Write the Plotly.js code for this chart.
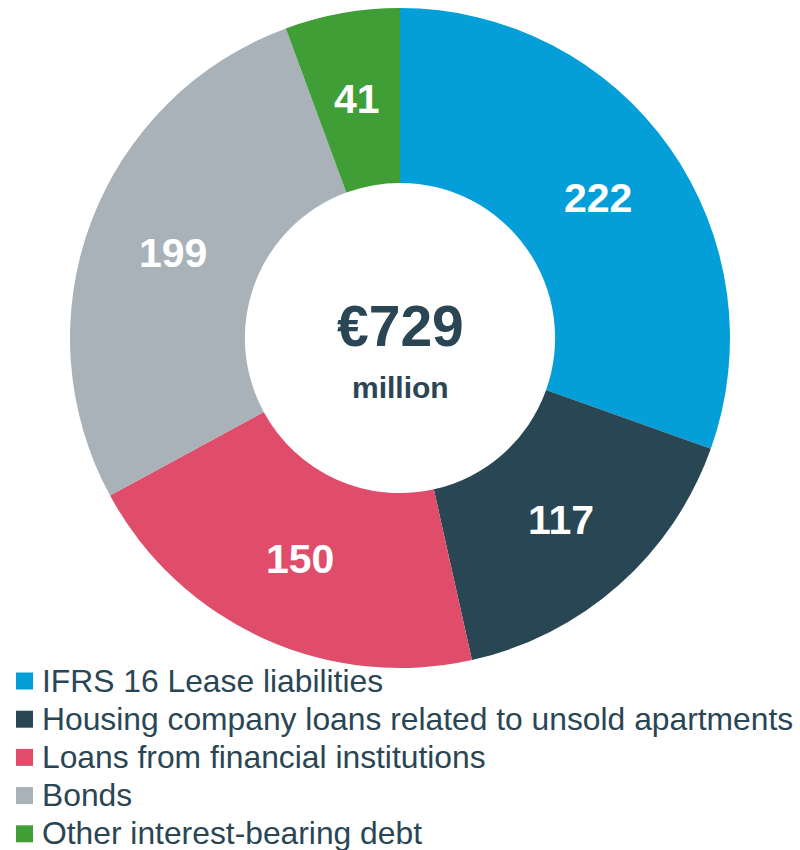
<!DOCTYPE html>
<html>
<head>
<meta charset="utf-8">
<script src="https://cdn.plot.ly/plotly-3.0.1.min.js"></script>
<style>html,body{margin:0;padding:0;background:#fff;}#chart{width:800px;height:850px;}</style>
</head>
<body>
<div id="chart"></div>
<script>
const categories = [
  "IFRS 16 Lease liabilities",
  "Housing company loans related to unsold apartments",
  "Loans from financial institutions",
  "Bonds",
  "Other interest-bearing debt"
];
const values = [222, 117, 150, 199, 41];
const colors = ["#049fd9", "#284653", "#df4d6b", "#a8b2b8", "#3f9e35"];
const totalText = "€729";
const unitText = "million";

const textColor = "#2a4654";
const W = 800, H = 850;
const HOLE = 0.47;
const domainX = [0.0875, 0.9125];
const domainY = [0.2141, 0.9906];

const trace = {
  type: "pie",
  labels: categories,
  values: values,
  sort: false,
  direction: "clockwise",
  rotation: 0,
  hole: HOLE,
  marker: {colors: colors, line: {width: 0}},
  textinfo: "none",
  domain: {x: domainX, y: domainY},
  hoverinfo: "label+value",
  showlegend: false
};

const shapes = [];
const annotations = [];

// Slice value labels centred in the ring (as in the reference)
const cxPx = (domainX[0] + domainX[1]) / 2 * W;
const cyPx = (1 - (domainY[0] + domainY[1]) / 2) * H;
const Rpx = Math.min((domainX[1] - domainX[0]) * W, (domainY[1] - domainY[0]) * H) / 2;
const rMid = Rpx * (1 + HOLE) / 2;
const total = values.reduce((a, b) => a + b, 0);
let cum = 0;
values.forEach((v, i) => {
  const ang = (cum + v / 2) / total * 2 * Math.PI;
  cum += v;
  const px = cxPx + rMid * Math.sin(ang);
  const py = cyPx - rMid * Math.cos(ang);
  annotations.push({
    text: "<b>" + v + "</b>", xref: "paper", yref: "paper",
    x: px / W, y: 1 - py / H, xanchor: "center", yanchor: "middle",
    showarrow: false,
    font: {family: "Liberation Sans, Arial, sans-serif", size: 41, color: "#ffffff"}
  });
});

// Legend drawn as layout items (square swatch + label) built from categories/colors
const legendTop = 681;   // px, centre of first entry
const legendStep = 38.2; // px between entries
categories.forEach((name, i) => {
  const cy = legendTop + i * legendStep;
  shapes.push({
    type: "rect", xref: "paper", yref: "paper",
    x0: 16 / W, x1: 33 / W,
    y0: 1 - (cy + 8.5) / H, y1: 1 - (cy - 8.5) / H,
    fillcolor: colors[i], line: {width: 0}
  });
  annotations.push({
    text: name, xref: "paper", yref: "paper",
    x: 40 / W, xanchor: "left",
    y: 1 - (cy - 0.5) / H, yanchor: "middle",
    showarrow: false,
    font: {family: "Liberation Sans, Arial, sans-serif", size: 31.8, color: textColor}
  });
});

annotations.push(
  {text: "<b>" + totalText + "</b>", x: 0.5, y: 1 - 326/H, xref: "paper", yref: "paper",
   showarrow: false, font: {family: "Liberation Sans, Arial, sans-serif", size: 57, color: textColor}},
  {text: "<b>" + unitText + "</b>", x: 0.5, y: 1 - 387/H, xref: "paper", yref: "paper",
   showarrow: false, font: {family: "Liberation Sans, Arial, sans-serif", size: 30, color: textColor}}
);

const layout = {
  width: W,
  height: H,
  margin: {l: 0, r: 0, t: 0, b: 0, autoexpand: false},
  paper_bgcolor: "#ffffff",
  showlegend: false,
  shapes: shapes,
  annotations: annotations
};

Plotly.newPlot("chart", [trace], layout, {displayModeBar: false, staticPlot: true});
</script>
</body>
</html>
